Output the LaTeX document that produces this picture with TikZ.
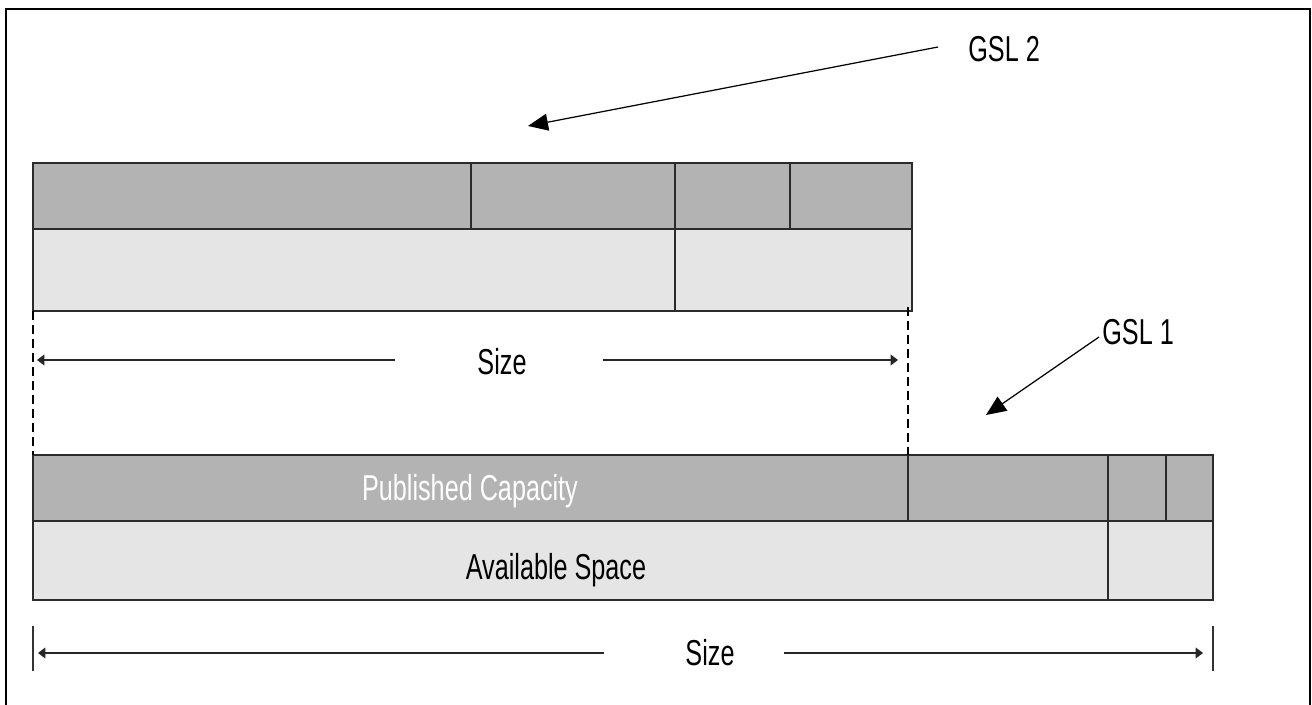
\documentclass[tikz,border=0pt]{standalone}
\usepackage{fontspec}
\setmainfont{Liberation Sans}[FakeStretch=0.7]
\usetikzlibrary{arrows.meta,fit}
\definecolor{cellDark}{HTML}{B3B3B3}
\definecolor{cellLight}{HTML}{E5E5E5}
\definecolor{cellEdge}{HTML}{2B2B2B}
\begin{document}
\begin{tikzpicture}[x=0.02cm,y=-0.02cm,
  cell/.style={draw=cellEdge,line width=0.6pt,inner sep=0pt,outer sep=0pt},
  darkcell/.style={cell,fill=cellDark},
  lightcell/.style={cell,fill=cellLight},
  lbl/.style={inner sep=0pt,font=\fontsize{20.5}{24}\selectfont},
  pointer/.style={line width=0.7pt,-{Triangle[length=0.4cm,width=0.34cm]}},
  sizearrow/.style={line width=0.75pt,draw=black!85,-{Triangle[length=0.15cm,width=0.22cm]}},
  guide/.style={line width=0.6pt,dash pattern=on 0.18cm off 0.1cm},
  endmark/.style={line width=0.6pt,draw=black!80}]
\useasboundingbox (0,0) rectangle (1312,705);

% outer frame (open at the bottom)
\draw[line width=1.2pt] (5.7,705) -- (5.7,8.7) -- (1310,8.7) -- (1310,705);

% ---- GSL 2 block ----
\node[darkcell,  fit={(33,163) (471,229)}]  (g2a) {};
\node[darkcell,  fit={(471,163) (675,229)}] (g2b) {};
\node[darkcell,  fit={(675,163) (790,229)}] (g2c) {};
\node[darkcell,  fit={(790,163) (912,229)}] (g2d) {};
\node[lightcell, fit={(33,229) (675,311)}]  (g2e) {};
\node[lightcell, fit={(675,229) (912,311)}] (g2f) {};

% ---- GSL 1 block ----
\node[darkcell,  fit={(33,455) (908,521)}]    (g1a) {};
\node[darkcell,  fit={(908,455) (1108,521)}]  (g1b) {};
\node[darkcell,  fit={(1108,455) (1166,521)}] (g1c) {};
\node[darkcell,  fit={(1166,455) (1213,521)}] (g1d) {};
\node[lightcell, fit={(33,521) (1108,600)}]   (g1e) {};
\node[lightcell, fit={(1108,521) (1213,600)}] (g1f) {};

% labels
\node[lbl, anchor=base west] (gsl2) at (968,62) {GSL 2};
\node[lbl, anchor=base west] (gsl1) at (1102,345) {GSL 1};
\node[lbl, anchor=base] (size2) at (502,375) {Size};
\node[lbl, anchor=base, text=white] (pubcap) at (470,501) {Published Capacity};
\node[lbl, anchor=base] (avail) at (556,580) {Available Space};
\node[lbl, anchor=base] (size1) at (710,665.5) {Size};

% pointer arrows
\coordinate (p2s) at (938,47);
\coordinate (p2e) at (528,126);
\coordinate (p1s) at (1099,337);
\coordinate (p1e) at (986,415);
\draw[pointer] (p2s) -- (p2e);
\draw[pointer] (p1s) -- (p1e);

% dashed guides between the blocks
\draw[guide] (g2e.south west) -- (g1a.north west);
\coordinate (gr1) at (908,307);
\draw[guide] (gr1) -- (g1b.north west);

% upper size dimension
\coordinate (s2l) at (395,360);
\coordinate (s2lt) at (37,360);
\coordinate (s2r) at (603,360);
\coordinate (s2rt) at (898,360);
\draw[sizearrow] (s2l) -- (s2lt);
\draw[sizearrow] (s2r) -- (s2rt);

% lower size dimension
\coordinate (tl1) at (33,626);
\coordinate (tl2) at (33,671);
\coordinate (tr1) at (1213,626);
\coordinate (tr2) at (1213,671);
\draw[endmark] (tl1) -- (tl2);
\draw[endmark] (tr1) -- (tr2);
\coordinate (s1l) at (604,653);
\coordinate (s1lt) at (38,653);
\coordinate (s1r) at (784,653);
\coordinate (s1rt) at (1203,653);
\draw[sizearrow] (s1l) -- (s1lt);
\draw[sizearrow] (s1r) -- (s1rt);
\end{tikzpicture}
\end{document}
